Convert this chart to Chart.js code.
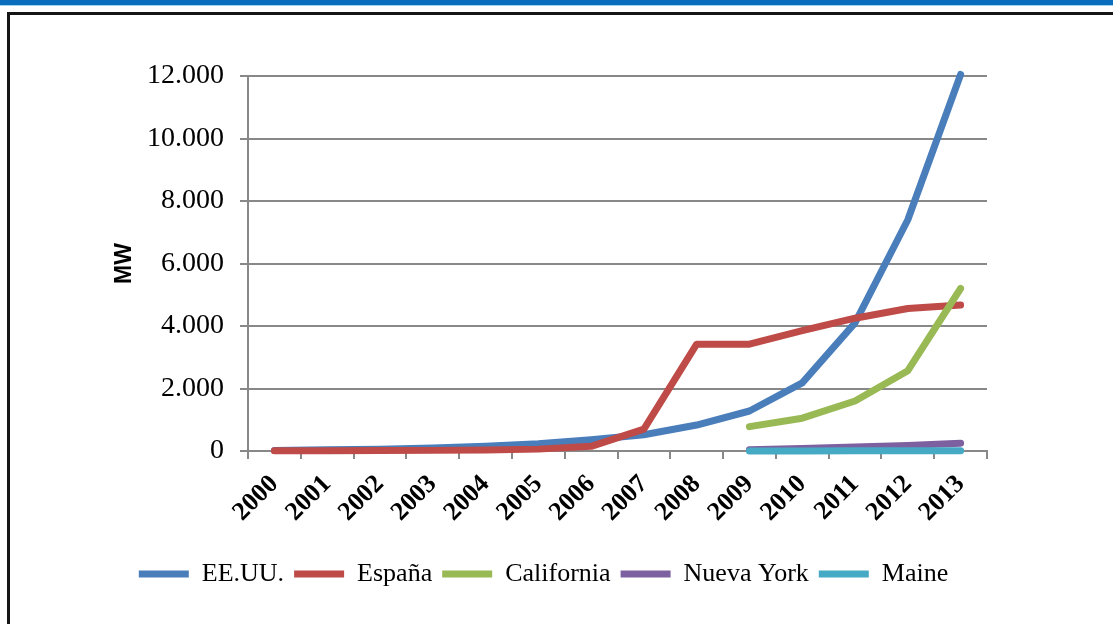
<!DOCTYPE html>
<html>
<head>
<meta charset="utf-8">
<script src="https://cdn.jsdelivr.net/npm/chart.js@4"></script>
<style>
  html, body { margin: 0; padding: 0; background: #fff; }
  body { width: 1113px; height: 624px; position: relative; overflow: hidden; }
  #topBar { position: absolute; left: 0; top: 0; width: 1113px; height: 5px; background: #0A6EBD; border-bottom: 1px solid #9fd3ef; }
  #frame { position: absolute; left: 7px; top: 12px; width: 1110px; height: 620px; border-top: 3px solid #151515; border-left: 3px solid #151515; }
  #wrap { position: absolute; left: 0; top: 0; width: 1113px; height: 624px; }
</style>
</head>
<body>
<div id="topBar"></div>
<div id="frame"></div>
<div id="wrap"><canvas id="mwChart"></canvas></div>
<script>
document.addEventListener('DOMContentLoaded', function() {

  const years = ['2000', '2001', '2002', '2003', '2004', '2005', '2006',
                 '2007', '2008', '2009', '2010', '2011', '2012', '2013'];

  const usa        = [20, 40, 60, 100, 150, 230, 360, 520, 830, 1280, 2180, 4100, 7400, 12050];
  const spain      = [10, 10, 15, 20, 30, 60, 150, 700, 3420, 3420, 3850, 4250, 4560, 4670];
  const california = [null, null, null, null, null, null, null, null, null, 780, 1050, 1600, 2570, 5200];
  const newYork    = [null, null, null, null, null, null, null, null, null, 40, 80, 130, 180, 250];
  const maine      = [null, null, null, null, null, null, null, null, null, 2, 3, 5, 8, 10];

  const seriesNames = ['EE.UU.', 'España', 'California', 'Nueva York', 'Maine'];
  const seriesColors = ['#4A7EBB', '#BE4B48', '#98B954', '#7D60A0', '#46AAC5'];
  const yMax = 12000;
  const yStep = 2000;

  // miles con punto: 12000 -> 12.000
  function fmt(v) {
    return String(v).replace(/\B(?=(\d{3})+(?!\d))/g, '.');
  }

  const allData = [usa, spain, california, newYork, maine];
  const datasets = allData.map(function(d, i) {
    return {
      label: seriesNames[i],
      data: d,
      borderColor: seriesColors[i],
      backgroundColor: seriesColors[i],
      borderWidth: 7,
      borderCapStyle: 'round',
      borderJoinStyle: 'round',
      pointRadius: 0,
      tension: 0,
      clip: 10,
      order: 10 - i   // later series drawn on top, like the original
    };
  });

  const gridGray = '#888888';

  new Chart(document.getElementById('mwChart').getContext('2d'), {
    type: 'line',
    data: { labels: years, datasets: datasets },
    options: {
      responsive: true,
      maintainAspectRatio: false,
      animation: false,
      layout: { padding: { left: 100, right: 126, top: 76, bottom: 27 } },
      plugins: {
        tooltip: { enabled: false },
        legend: {
          position: 'bottom',
          labels: {
            usePointStyle: true,
            pointStyle: 'line',
            pointStyleWidth: 50,
            padding: 10,
            color: '#000',
            font: { family: '"Liberation Serif", serif', size: 26 },
            sort: function(a, b) { return a.datasetIndex - b.datasetIndex; }
          }
        }
      },
      scales: {
        x: {
          offset: true,
          afterFit: function(axis) { axis.height = 100; },
          grid: {
            offset: true,
            drawOnChartArea: false,
            drawTicks: true,
            tickLength: 8,
            color: gridGray,
            lineWidth: 2
          },
          border: { color: gridGray, width: 2 },
          ticks: {
            autoSkip: false,
            minRotation: 45,
            maxRotation: 45,
            padding: 10,
            color: '#000',
            font: { family: '"Liberation Serif", serif', size: 26, weight: 'bold' }
          }
        },
        y: {
          min: 0,
          max: yMax,
          afterFit: function(axis) { axis.width = 148; },
          grid: { color: gridGray, lineWidth: 2, tickLength: 8 },
          border: { color: gridGray, width: 2 },
          ticks: {
            stepSize: yStep,
            padding: 16,
            color: '#000',
            font: { family: '"Liberation Serif", serif', size: 28 },
            callback: function(value) { return fmt(value); }
          },
          title: {
            display: true,
            text: 'MW',
            color: '#000',
            padding: { top: 11, bottom: 0 },
            font: { family: '"Liberation Sans", sans-serif', size: 23, weight: 'bold' }
          }
        }
      }
    }
  });
});
</script>
</body>
</html>
